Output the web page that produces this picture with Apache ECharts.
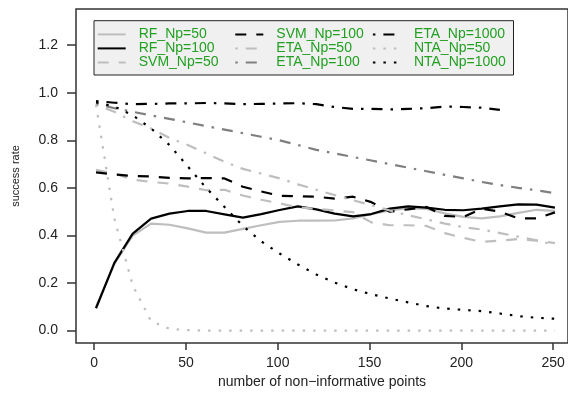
<!DOCTYPE html>
<html>
<head>
<meta charset="utf-8">
<script src="https://cdn.jsdelivr.net/npm/echarts@6/dist/echarts.min.js"></script>
<style>
  html, body { margin: 0; padding: 0; background: #fff; }
  #chart { width: 568px; height: 395px; }
</style>
</head>
<body>
<div id="chart"></div>
<script>
// number of non-informative points (x)
const npoints = [1, 11, 21, 31, 41, 51, 61, 71, 81, 91, 101, 111, 121, 131, 141, 151, 161, 171, 181, 191, 201, 211, 221, 231, 241, 251]

const rfNp50 = [0.10, 0.28, 0.40, 0.45, 0.445, 0.43, 0.412, 0.412, 0.428, 0.443, 0.457, 0.462, 0.462, 0.463, 0.472, 0.49, 0.505, 0.515, 0.512, 0.493, 0.478, 0.472, 0.48, 0.495, 0.508, 0.503]
const rfNp100 = [0.094, 0.285, 0.408, 0.471, 0.492, 0.503, 0.503, 0.489, 0.475, 0.49, 0.507, 0.522, 0.51, 0.492, 0.48, 0.49, 0.513, 0.522, 0.517, 0.508, 0.506, 0.513, 0.522, 0.531, 0.53, 0.517]
const svmNp50 = [0.676, 0.66, 0.635, 0.625, 0.618, 0.605, 0.59, 0.592, 0.568, 0.55, 0.535, 0.518, 0.512, 0.505, 0.498, 0.455, 0.443, 0.443, 0.44, 0.41, 0.39, 0.373, 0.378, 0.385, 0.378, 0.368]
const svmNp100 = [0.665, 0.657, 0.65, 0.648, 0.642, 0.64, 0.641, 0.64, 0.605, 0.585, 0.567, 0.565, 0.563, 0.555, 0.563, 0.54, 0.5, 0.51, 0.52, 0.482, 0.478, 0.512, 0.5, 0.472, 0.472, 0.497]
const etaNp50 = [0.95, 0.92, 0.88, 0.85, 0.81, 0.78, 0.745, 0.71, 0.68, 0.66, 0.64, 0.615, 0.592, 0.57, 0.548, 0.527, 0.505, 0.485, 0.468, 0.45, 0.435, 0.425, 0.41, 0.395, 0.38, 0.36]
const etaNp100 = [0.955, 0.935, 0.92, 0.905, 0.89, 0.875, 0.86, 0.845, 0.83, 0.815, 0.8, 0.78, 0.76, 0.745, 0.73, 0.715, 0.7, 0.685, 0.67, 0.655, 0.64, 0.625, 0.612, 0.6, 0.59, 0.578]
const etaNp1000 = [0.965, 0.958, 0.952, 0.953, 0.955, 0.955, 0.957, 0.955, 0.952, 0.953, 0.955, 0.956, 0.952, 0.94, 0.932, 0.932, 0.93, 0.932, 0.935, 0.942, 0.94, 0.937, 0.928, null, null, null]
const ntaNp50 = [0.95, 0.47, 0.19, 0.04, 0.008, 0.002, 0, 0, 0, 0, 0, 0, 0, 0, 0, 0, 0, 0, 0, 0, 0, 0, 0, 0, 0, 0]
const ntaNp1000 = [0.96, 0.942, 0.905, 0.85, 0.78, 0.69, 0.6, 0.52, 0.44, 0.375, 0.324, 0.278, 0.236, 0.202, 0.174, 0.153, 0.135, 0.119, 0.103, 0.093, 0.087, 0.082, 0.072, 0.061, 0.054, 0.05]

const xTicks = [0, 50, 100, 150, 200, 250]
const yTicks = [0, 0.2, 0.4, 0.6, 0.8, 1.0, 1.2]

// R line types, as ECharts dash arrays
const SOLID = 'solid'
const DASHED = [11, 10]
const DOTTED = [2.5, 8]
const DOTDASH = [2.5, 8, 11, 8]

const LIGHT = '#bebebe'
const MID = '#7f7f7f'
const DARK = '#000000'

const curves = [
  { name: 'RF_Np=50', values: rfNp50, color: LIGHT, dash: SOLID },
  { name: 'RF_Np=100', values: rfNp100, color: DARK, dash: SOLID },
  { name: 'SVM_Np=50', values: svmNp50, color: LIGHT, dash: DASHED },
  { name: 'SVM_Np=100', values: svmNp100, color: DARK, dash: DASHED },
  { name: 'ETA_Np=50', values: etaNp50, color: LIGHT, dash: DOTDASH },
  { name: 'ETA_Np=100', values: etaNp100, color: MID, dash: DOTDASH },
  { name: 'ETA_Np=1000', values: etaNp1000, color: DARK, dash: DOTDASH },
  { name: 'NTA_Np=50', values: ntaNp50, color: LIGHT, dash: DOTTED },
  { name: 'NTA_Np=1000', values: ntaNp1000, color: DARK, dash: DOTTED }
]

const font = 'Liberation Sans, Arial, Helvetica, sans-serif'
const axisColor = '#333'

const chart = echarts.init(document.getElementById('chart'), null, { renderer: 'canvas' })

chart.setOption({
  animation: false,
  backgroundColor: '#fff',
  grid: {
    show: true,
    left: 76,
    top: 9,
    right: -2,
    bottom: 52,
    borderColor: axisColor,
    borderWidth: 1.5,
    backgroundColor: 'transparent'
  },
  legend: {
    orient: 'vertical',
    left: 94,
    top: 20.7,
    height: 42,
    padding: [6.7, 4, 5.6, 2.7],
    itemGap: 0,
    itemWidth: 28,
    itemHeight: 13,
    // only the line sample, no marker on it
    itemStyle: { opacity: 0 },
    backgroundColor: '#f0f0f0',
    borderColor: '#222',
    borderWidth: 1,
    borderRadius: 0,
    data: curves.map(c => c.name),
    textStyle: {
      color: '#22a022',
      fontFamily: font,
      fontSize: 14,
      lineHeight: 13.3,
      width: 95.6,
      padding: [0, 0, 0, 8]
    }
  },
  xAxis: {
    type: 'value',
    min: -9.9,
    max: 258.1,
    name: 'number of non\u2212informative points',
    nameLocation: 'middle',
    nameGap: 30,
    nameTextStyle: { color: '#222', fontFamily: font, fontSize: 14 },
    axisLine: { show: false, onZero: false },
    splitLine: { show: false },
    axisTick: {
      show: true,
      length: 7,
      customValues: xTicks,
      lineStyle: { color: axisColor, width: 1.5 }
    },
    axisLabel: {
      customValues: xTicks,
      margin: 13,
      color: '#222',
      fontFamily: font,
      fontSize: 14
    }
  },
  yAxis: {
    type: 'value',
    min: -0.052,
    max: 1.352,
    name: 'success rate',
    nameLocation: 'middle',
    nameGap: 55,
    nameTextStyle: { color: '#222', fontFamily: font, fontSize: 11 },
    axisLine: { show: false, onZero: false },
    splitLine: { show: false },
    axisTick: {
      show: true,
      length: 9,
      customValues: yTicks,
      lineStyle: { color: axisColor, width: 1.5 }
    },
    axisLabel: {
      customValues: yTicks,
      margin: 18,
      color: '#222',
      fontFamily: font,
      fontSize: 14,
      formatter: v => v.toFixed(1)
    }
  },
  series: curves.map(c => ({
    name: c.name,
    type: 'line',
    data: npoints.map((x, i) => [x, c.values[i]]),
    showSymbol: false,
    symbol: 'none',
    color: c.color,
    lineStyle: { color: c.color, width: 2.2, type: c.dash, cap: 'butt', join: 'round' },
    emphasis: { disabled: true }
  }))
})
</script>
</body>
</html>
